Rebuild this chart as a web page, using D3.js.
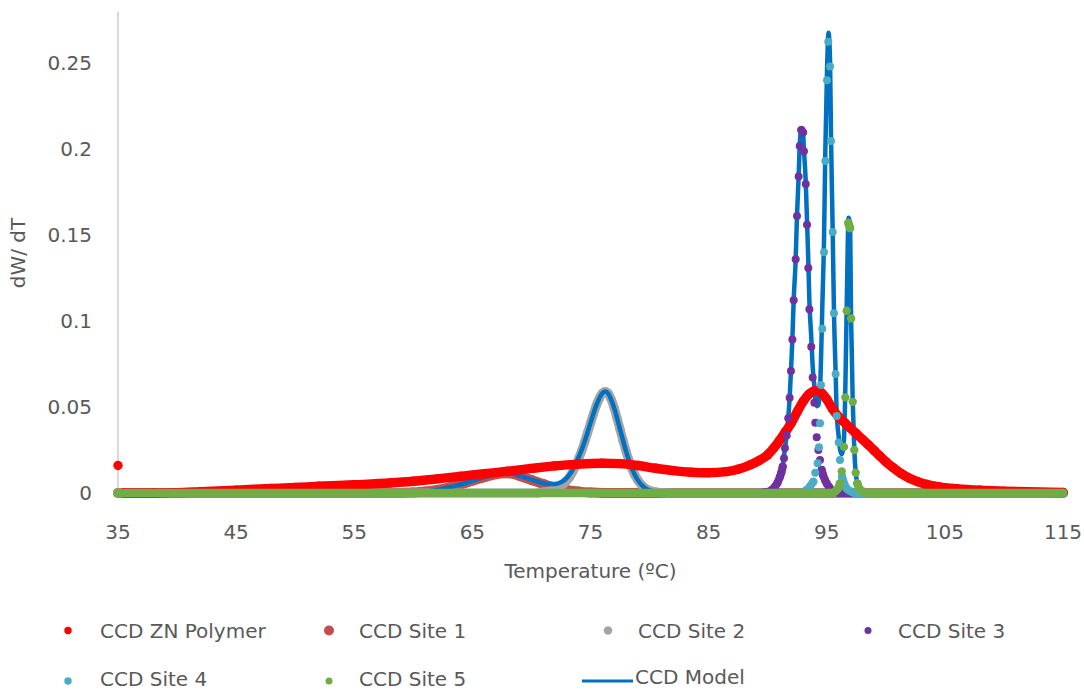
<!DOCTYPE html>
<html lang="en">
<head>
<meta charset="UTF-8">
<title>CCD deconvolution</title>
<script src="https://d3js.org/d3.v7.min.js"></script>
<style>
body { margin: 0; background: #fff; }
svg { display: block; }
text { font-family: 'DejaVu Sans', sans-serif; fill: #595959; }
</style>
</head>
<body>
<script>
// ---- data ----
const xTicks = [35, 45, 55, 65, 75, 85, 95, 105, 115];
const yTicks = [0, 0.05, 0.1, 0.15, 0.2, 0.25];
const xTitle = 'Temperature (\u00baC)';
const yTitle = 'dW/ dT';

const seriesNames = ['CCD ZN Polymer', 'CCD Site 1', 'CCD Site 2', 'CCD Site 3', 'CCD Site 4', 'CCD Site 5', 'CCD Model'];

// [temperature, dW/dT]
const polymer = [[35,0.016],[35.5,0],[38,0],[40,0.0002],[42,0.0008],[45,0.0017],[48,0.0026],[50,0.0032],[52,0.0039],[55,0.0048],[58,0.0058],[60,0.0068],[62,0.0082],[64,0.0097],[66,0.0112],[68,0.0127],[70,0.0143],[72,0.0158],[74,0.0168],[76,0.0173],[77.5,0.0171],[79,0.016],[80.5,0.0144],[82,0.013],[83.5,0.0121],[85,0.0118],[86.5,0.0124],[87.5,0.0138],[88.5,0.0163],[89.3,0.019],[90,0.0222],[90.5,0.026],[91,0.0305],[91.5,0.0355],[92,0.0408],[92.5,0.0472],[93,0.0532],[93.5,0.0575],[94,0.0595],[94.5,0.0585],[95,0.0545],[95.5,0.0487],[96,0.0443],[96.5,0.041],[97,0.0377],[97.5,0.0345],[98,0.0313],[98.5,0.0281],[99,0.0248],[99.5,0.0214],[100,0.0182],[100.6,0.0148],[101.3,0.0113],[102,0.0086],[102.7,0.0066],[103.5,0.0049],[104.5,0.0036],[106,0.0025],[108,0.0016],[110,0.0011],[112,0.0007],[115,0.0003]];

const site1 = [[35,0],[59,0],[60,0.0003],[61,0.0008],[62,0.0018],[63,0.0032],[64,0.005],[65,0.0071],[66,0.0092],[67,0.0109],[67.7,0.0115],[68.5,0.011],[69,0.0099],[70,0.0076],[71,0.0052],[72,0.0031],[73,0.0016],[74,0.0008],[75,0.0003],[76,0],[115,0]];

const site2 = [[35,0],[70.5,0],[71,0.0005],[71.5,0.001],[72,0.0022],[72.5,0.004],[73,0.0072],[73.25,0.0095],[73.5,0.0125],[73.75,0.016],[74,0.02],[74.25,0.0245],[74.5,0.0295],[74.75,0.035],[75,0.0405],[75.25,0.046],[75.5,0.051],[75.75,0.055],[76,0.058],[76.25,0.059],[76.5,0.0578],[76.75,0.0545],[77,0.0495],[77.25,0.0435],[77.5,0.037],[77.75,0.0305],[78,0.0245],[78.25,0.019],[78.5,0.0143],[78.75,0.0105],[79,0.0075],[79.25,0.0052],[79.5,0.0035],[80,0.0015],[80.5,0.0006],[81,0.0002],[81.5,0],[115,0]];

const site3 = [[35,0],[89.4,0],[89.8,0.0004],[90.2,0.001],[90.4,0.002],[90.62,0.0037],[90.83,0.006],[91.04,0.0095],[91.16,0.012],[91.27,0.0153],[91.38,0.0202],[91.46,0.0262],[91.61,0.0335],[91.74,0.0434],[91.86,0.0554],[91.97,0.0709],[92.09,0.0893],[92.2,0.112],[92.37,0.1359],[92.48,0.161],[92.62,0.184],[92.71,0.2017],[92.85,0.211],[92.99,0.2097],[93.07,0.1987],[93.22,0.1797],[93.33,0.156],[93.44,0.1308],[93.53,0.1068],[93.69,0.085],[93.81,0.0672],[93.95,0.0525],[94.03,0.0409],[94.15,0.0324],[94.29,0.025],[94.43,0.0192],[94.57,0.0134],[94.7,0.0102],[94.85,0.0076],[95,0.0055],[95.2,0.0035],[95.4,0.0017],[95.7,0.0006],[96.1,0],[115,0]];

const site4 = [[35,0],[92.8,0],[93.1,0.0008],[93.3,0.0017],[93.6,0.004],[93.86,0.0066],[94.03,0.0118],[94.23,0.0173],[94.34,0.0266],[94.43,0.0405],[94.51,0.0628],[94.62,0.0955],[94.77,0.14],[94.88,0.193],[95.02,0.24],[95.13,0.2624],[95.28,0.248],[95.36,0.2047],[95.5,0.1517],[95.61,0.1045],[95.75,0.0692],[95.84,0.0448],[96.01,0.0293],[96.12,0.0192],[96.3,0.0095],[96.5,0.005],[96.7,0.0025],[97,0.001],[97.4,0],[115,0]];

const site5 = [[35,0],[95.5,0],[95.84,0.0017],[96,0.003],[96.12,0.0056],[96.27,0.0125],[96.46,0.0268],[96.57,0.0556],[96.69,0.106],[96.83,0.157],[96.97,0.154],[97.06,0.1015],[97.2,0.053],[97.33,0.025],[97.45,0.0118],[97.59,0.0056],[97.75,0.0025],[98,0.001],[98.4,0],[115,0]];

const model = [[35,0],[59,0],[60,0.0003],[61,0.0008],[62,0.0018],[63,0.0032],[64,0.005],[65,0.0071],[66,0.0092],[67,0.0109],[67.7,0.0115],[68.5,0.011],[69,0.0099],[70,0.0078],[71,0.0057],[71.5,0.0053],[72,0.0053],[72.5,0.0062],[73,0.0088],[73.5,0.0136],[74,0.0208],[74.5,0.0298],[75,0.0408],[75.5,0.0511],[76,0.058],[76.25,0.059],[76.5,0.0578],[77,0.0495],[77.5,0.037],[78,0.0245],[78.5,0.0143],[79,0.0075],[79.5,0.0035],[80,0.0015],[81,0.0002],[82,0],[89.4,0],[89.8,0.0004],[90.2,0.001],[90.62,0.0037],[91.04,0.0095],[91.27,0.0153],[91.46,0.0262],[91.61,0.0335],[91.74,0.0434],[91.86,0.0554],[91.97,0.0709],[92.09,0.0893],[92.2,0.112],[92.37,0.1359],[92.48,0.161],[92.62,0.184],[92.71,0.2017],[92.85,0.211],[92.99,0.2097],[93.07,0.1995],[93.22,0.181],[93.33,0.1585],[93.44,0.1345],[93.53,0.1115],[93.69,0.0905],[93.81,0.0735],[93.95,0.062],[94.03,0.0545],[94.15,0.0505],[94.29,0.051],[94.43,0.0597],[94.51,0.0765],[94.62,0.107],[94.77,0.148],[94.88,0.199],[95.02,0.2445],[95.15,0.2676],[95.28,0.251],[95.36,0.207],[95.5,0.1535],[95.61,0.1055],[95.75,0.0702],[95.84,0.047],[96.01,0.033],[96.12,0.0255],[96.27,0.0225],[96.46,0.0318],[96.57,0.0595],[96.69,0.1085],[96.85,0.16],[96.97,0.1555],[97.06,0.102],[97.2,0.0535],[97.33,0.0255],[97.45,0.012],[97.59,0.0057],[97.75,0.0025],[98,0.001],[98.5,0],[115,0]];

// ---- layout ----
const w = 1084;
const h = 691;
const left = 118, right = 1063, bottom = 493;

const svg = d3.select('body').append('svg').attr('width', w).attr('height', h);

const x = d3.scaleLinear().domain([35, 115]).range([left, right]);
const y = d3.scaleLinear().domain([0, 0.28]).range([bottom, bottom - 0.28 * 1720]);

// axes: light grey lines, no tick marks
svg.append('line').attr('x1', left).attr('x2', right).attr('y1', bottom).attr('y2', bottom)
    .attr('stroke', '#bfbfbf').attr('stroke-width', 1.2);
svg.append('line').attr('x1', left).attr('x2', left).attr('y1', y(0.28)).attr('y2', bottom)
    .attr('stroke', '#bfbfbf').attr('stroke-width', 1.2);

svg.append('g').selectAll('text').data(yTicks).enter().append('text')
    .attr('x', 92).attr('y', d => y(d)).attr('dy', '0.36em')
    .attr('text-anchor', 'end').style('font-size', '20px')
    .text(d => d3.format('~g')(d));

svg.append('g').selectAll('text').data(xTicks).enter().append('text')
    .attr('x', d => x(d)).attr('y', 539)
    .attr('text-anchor', 'middle').style('font-size', '20px')
    .text(d => d);

svg.append('text').attr('x', (left + right) / 2).attr('y', 578)
    .attr('text-anchor', 'middle').style('font-size', '20px').text(xTitle);
svg.append('text').attr('transform', 'translate(25,253) rotate(-90)')
    .attr('text-anchor', 'middle').style('font-size', '20px').text(yTitle);

// ---- series ----
const plot = svg.append('g');
const lineGen = d3.line().x(d => x(d[0])).y(d => y(d[1])).curve(d3.curveMonotoneX);

// the markers are sampled densely, so neighbouring dots merge into a band
function runs(data, gap) {
    const out = [];
    let cur = [data[0]];
    for (let i = 1; i < data.length; i++) {
        const a = data[i - 1], b = data[i];
        const dy = Math.abs(y(b[1]) - y(a[1]));
        if ((a[1] === 0 && b[1] === 0) || dy <= gap) cur.push(b);
        else { out.push(cur); cur = [b]; }
    }
    out.push(cur);
    return out.filter(r => r.length > 1);
}

function markers(data, color, r, gap) {
    const g = plot.append('g');
    g.selectAll('path').data(runs(data, gap)).enter().append('path')
        .attr('d', lineGen).attr('fill', 'none').attr('stroke', color)
        .attr('stroke-width', 2 * r).attr('stroke-linecap', 'round').attr('stroke-linejoin', 'round');
    g.selectAll('circle').data(data).enter().append('circle')
        .attr('cx', d => x(d[0])).attr('cy', d => y(d[1])).attr('r', r).attr('fill', color);
}

markers(site1, '#c0504d', 5, 20);
markers(site2, '#a5a5a5', 4.6, 20);
plot.append('path').datum(model).attr('d', lineGen).attr('fill', 'none')
    .attr('stroke', '#0070c0').attr('stroke-width', 4.5).attr('stroke-linejoin', 'round');
markers(polymer, '#ff0000', 4.7, 20);
markers(site3, '#7030a0', 4, 8);
markers(site4, '#4bacc6', 4, 8);
markers(site5, '#70ad47', 4.2, 8);

// ---- legend ----
const legendItems = [
    { name: seriesNames[0], color: '#ff0000', r: 3.7, mx: 68, tx: 100, my: 630.5, ty: 637.5 },
    { name: seriesNames[1], color: '#c0504d', r: 5, mx: 329, tx: 359, my: 630.5, ty: 637.5 },
    { name: seriesNames[2], color: '#a5a5a5', r: 4.3, mx: 608, tx: 638, my: 630.5, ty: 637.5 },
    { name: seriesNames[3], color: '#7030a0', r: 3.5, mx: 868, tx: 898, my: 630.5, ty: 637.5 },
    { name: seriesNames[4], color: '#4bacc6', r: 3.7, mx: 68, tx: 100, my: 681, ty: 686 },
    { name: seriesNames[5], color: '#70ad47', r: 3.5, mx: 329, tx: 359, my: 681, ty: 686 }
];
const legend = svg.append('g');
legend.selectAll('circle').data(legendItems).enter().append('circle')
    .attr('cx', d => d.mx).attr('cy', d => d.my).attr('r', d => d.r).attr('fill', d => d.color);
legend.selectAll('text').data(legendItems).enter().append('text')
    .attr('x', d => d.tx).attr('y', d => d.ty).style('font-size', '20px').text(d => d.name);
legend.append('line').attr('x1', 582).attr('x2', 633).attr('y1', 681).attr('y2', 681)
    .attr('stroke', '#0070c0').attr('stroke-width', 3);
legend.append('text').attr('x', 635).attr('y', 684).style('font-size', '20px').text(seriesNames[6]);
</script>
</body>
</html>
